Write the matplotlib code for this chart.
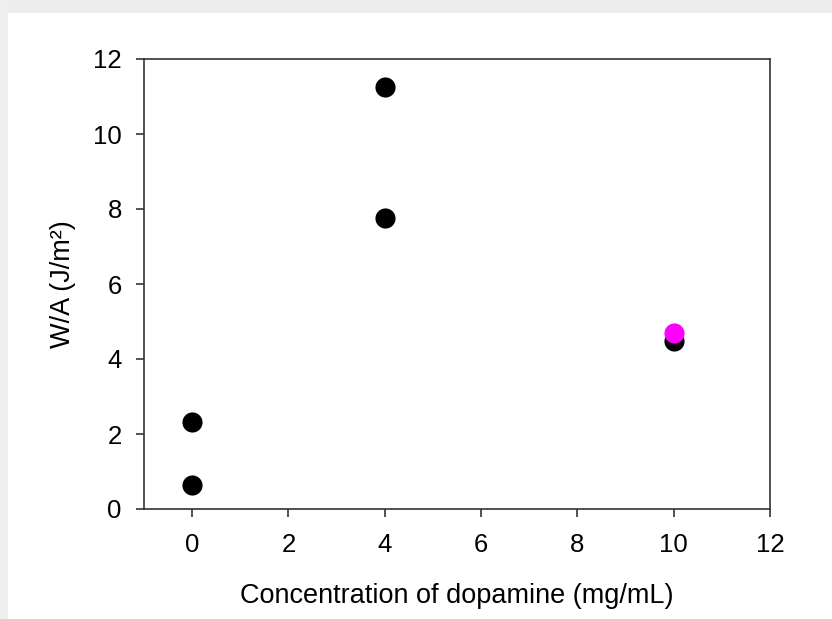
import matplotlib
matplotlib.use("Agg")
import matplotlib.pyplot as plt
from matplotlib.patches import Rectangle

plt.rcParams['font.family'] = ['Liberation Sans', 'DejaVu Sans']

# Work of adhesion measurements
conc_black = [0, 0, 4, 4, 10]
wa_black = [0.65, 2.33, 7.75, 11.25, 4.48]
conc_pink = [10]
wa_pink = [4.70]

x_ticks = [0, 2, 4, 6, 8, 10, 12]
y_ticks = [0, 2, 4, 6, 8, 10, 12]

fig = plt.figure(figsize=(8.32, 6.19), dpi=100)

# light frame along the top and left edges
fig.patches.append(Rectangle((0, 1 - 13 / 619), 1, 13 / 619, transform=fig.transFigure,
                             facecolor='#ededed', edgecolor='none', zorder=0))
fig.patches.append(Rectangle((0, 0), 8 / 832, 1, transform=fig.transFigure,
                             facecolor='#efefef', edgecolor='none', zorder=0))

ax = fig.add_axes([144 / 832, 1 - 509 / 619, (770 - 144) / 832, (509 - 59) / 619])
ax.scatter(conc_black, wa_black, s=210, color='black', zorder=3, linewidths=0)
ax.scatter(conc_pink, wa_pink, s=210, color='#ff00ff', zorder=4, linewidths=0)

ax.set_xlim(-1, 12)
ax.set_ylim(0, 12)
ax.set_xticks(x_ticks)
ax.set_yticks(y_ticks)
ax.tick_params(direction='out', length=6, width=1.2, color='#333333',
               labelsize=18.5)
ax.tick_params(axis='x', pad=11)
ax.tick_params(axis='y', pad=10)
for sp in ax.spines.values():
    sp.set_linewidth(1.2)
    sp.set_color('#333333')

ax.set_xlabel('Concentration of dopamine (mg/mL)', fontsize=19.5, labelpad=19)
ax.set_ylabel('W/A (J/m²)', fontsize=19.5, labelpad=12)

fig.savefig('out.png', dpi=100)
